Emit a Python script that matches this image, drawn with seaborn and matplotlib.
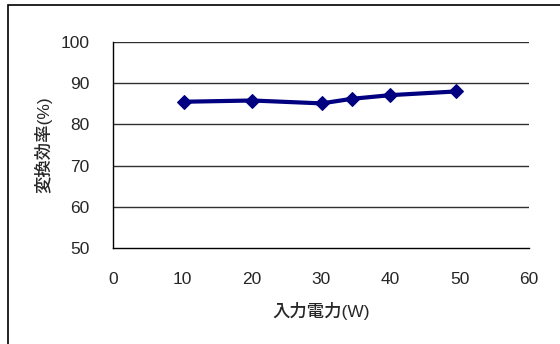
import matplotlib
matplotlib.use("Agg")
import matplotlib.pyplot as plt
import seaborn as sns
import pandas as pd
from matplotlib.patches import Rectangle

# data
power_w = [10.2, 20.1, 30.1, 34.4, 40.0, 49.5]
efficiency = [85.5, 85.8, 85.1, 86.2, 87.1, 88.0]
x_ticks = [0, 10, 20, 30, 40, 50, 60]
y_ticks = [50, 60, 70, 80, 90, 100]

df = pd.DataFrame({"power": power_w, "eff": efficiency})

sns.set_style("white")
plt.rcParams["font.family"] = ["Liberation Sans", "Noto Sans CJK JP", "DejaVu Sans"]

fig = plt.figure(figsize=(5.6, 3.44), dpi=100)
ax = fig.add_axes([113 / 560, 96 / 344, 416 / 560, 206 / 344])

# outer chart border (only top/left visible in the reference)
fig.patches.append(Rectangle((8 / 560, -0.1), 1.2, 339 / 344 + 0.1,
                             transform=fig.transFigure, fill=False,
                             edgecolor="black", linewidth=1.2, zorder=0))

sns.lineplot(data=df, x="power", y="eff", ax=ax, color="#000080",
             linewidth=3.0, marker="D", markersize=7.5,
             markeredgecolor="#000080", markerfacecolor="#000080")

ax.set_xlim(0, 60)
ax.set_ylim(50, 100)
ax.set_xticks(x_ticks)
ax.set_yticks(y_ticks)
for y in y_ticks[1:]:
    ax.axhline(y, color="#303030", linewidth=1.0, zorder=0)

for side in ["top", "right"]:
    ax.spines[side].set_visible(False)
for side in ["left", "bottom"]:
    ax.spines[side].set_color("black")
    ax.spines[side].set_linewidth(1.0)

ax.tick_params(axis="both", direction="in", length=6, width=1, color="black",
               labelsize=12.5)
ax.tick_params(axis="y", pad=17)
ax.tick_params(axis="x", pad=17)
ax.set_xlabel("入力電力(W)", fontsize=12.5, labelpad=11, fontweight="medium")
ax.set_ylabel("変換効率(%)", fontsize=12.5, labelpad=6, fontweight="medium")

fig.savefig("out.png", dpi=100)
